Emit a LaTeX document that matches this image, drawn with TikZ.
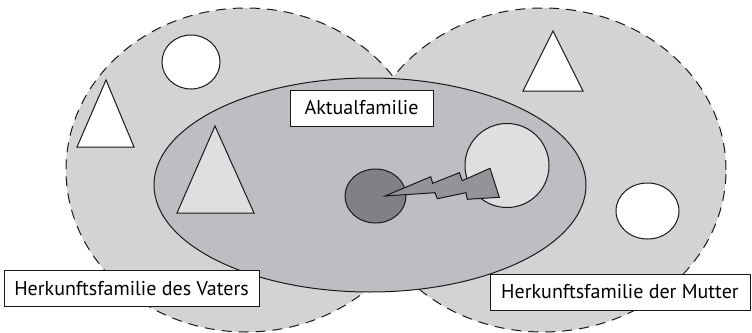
\documentclass[tikz,border=0pt]{standalone}
\usepackage{fontspec}
\setmainfont{PT Sans}
\usetikzlibrary{positioning}
\definecolor{famouter}{RGB}{210,211,213}
\definecolor{faminner}{RGB}{189,190,193}
\definecolor{famlight}{RGB}{222,223,225}
\definecolor{famdark}{RGB}{128,129,132}
\definecolor{famflash}{RGB}{147,148,151}

\begin{document}
\begin{tikzpicture}[
  x=1pt, y=-1pt,
  origin/.style={fill=famouter, draw=black!90, line width=1pt, dash pattern=on 10pt off 7pt},
  member/.style={draw=black!90, line width=1pt},
  label/.style={draw=black!90, line width=1pt, fill=white, minimum height=36pt, inner sep=0pt, font=\fontsize{20}{22}\selectfont}
]
\useasboundingbox (0,0) rectangle (752,332);

% Herkunftsfamilien
\path[origin] (246,170) ellipse [x radius=180pt, y radius=162pt];
\path[origin] (543,170) ellipse [x radius=183pt, y radius=162pt];
\begin{scope}
  \clip (246,170) ellipse [x radius=180pt, y radius=162pt];
  \fill[famouter] (543,170) ellipse [x radius=184.5pt, y radius=163.5pt];
\end{scope}

% Aktualfamilie
\path[member, fill=faminner] (370,185) ellipse [x radius=216pt, y radius=107pt];

% Personen
\path[member, fill=white] (191,62) ellipse [x radius=29pt, y radius=27pt];
\path[member, fill=white] (106,80) -- (134,147) -- (77,147) -- cycle;
\path[member, fill=white] (553,31) -- (583,91) -- (523,91) -- cycle;
\path[member, fill=white] (647.5,211) ellipse [x radius=31.5pt, y radius=28pt];
\path[member, fill=famlight] (215,126) -- (254,213) -- (177,213) -- cycle;
\path[member, fill=famlight] (507,165.5) circle [radius=42pt];
\path[member, fill=famdark] (375.5,196) ellipse [x radius=30.5pt, y radius=27pt];

% Konflikt
\path[member, fill=famflash] (385,196) -- (430.7,176.7) -- (432.7,183.3) -- (459.3,172.7)
  -- (462.3,180.7) -- (490,168.3) -- (499.3,197.3) -- (467.3,199.3) -- (466,192.7)
  -- (437.3,198.7) -- (435,192.7) -- cycle;

% Beschriftungen
\node[label, minimum width=143pt] (aktual) at (361.5,108) {Aktualfamilie};
\node[label, minimum width=255pt] (vater) at (131.5,288.5) {Herkunftsfamilie des Vaters};
\node[label, minimum width=260pt] (mutter) at (620,292) {Herkunftsfamilie der Mutter};
\end{tikzpicture}
\end{document}
